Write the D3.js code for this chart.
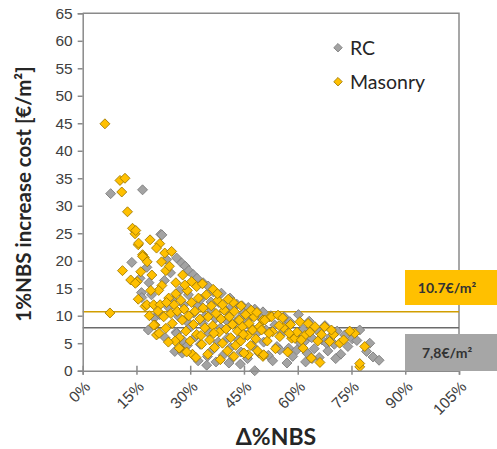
<html>
<head>
    <meta charset="utf-8">
    <script src="https://d3js.org/d3.v7.min.js" charset="utf-8"></script>
    <style>
        body { margin: 0; background: #fff; }
    </style>
</head>
<body>
    <script type="text/javascript">
        var width = 497;
        var height = 449;

        var margin = { top: 13.3, right: 38, bottom: 78.3, left: 82.7 };

        // tick values
        var xTicks = [0, 0.15, 0.30, 0.45, 0.60, 0.75, 0.90, 1.05];
        var yTicks = [0, 5, 10, 15, 20, 25, 30, 35, 40, 45, 50, 55, 60, 65];

        // reference lines (€/m2)
        var refValues = [10.7, 7.8];
        var refLabels = ["10.7€/m²", "7,8€/m²"];

        var seriesNames = ["RC", "Masonry"];

        // [ΔNBS %, cost €/m2]
        var rcPoints = [
            [7.8,32.2],[16.7,32.9],[13.7,19.7],[16.4,14.2],[16.5,13.3],[17.9,18.8],[18.3,7.4],[21.8,24.8],[22.1,24.7],
            [23.4,20.2],[26.2,20.5],[27.6,19.6],[28.6,19.0],[29.6,18.2],[30.8,17.5],[31.9,16.8],[33.6,16.0],[35.0,15.4],
            [36.5,14.3],[38.7,14.1],[41.1,13.2],[43.0,12.1],[44.5,11.8],[46.2,11.5],[48.0,11.2],[50.3,10.7],[20.0,9.6],
            [21.5,10.2],[24.0,11.5],[25.2,12.8],[26.1,7.0],[26.2,6.8],[25.7,3.5],[28.0,5.5],[29.0,9.0],[30.7,2.9],
            [31.5,6.2],[32.0,11.8],[32.8,4.8],[33.5,8.6],[34.6,1.0],[35.2,6.8],[35.8,12.5],[36.2,3.8],[37.0,9.5],
            [37.8,5.2],[38.5,7.8],[39.2,2.8],[39.8,11.0],[40.5,6.0],[41.2,4.2],[42.0,2.5],[42.6,8.8],[43.4,5.6],
            [44.2,3.4],[44.9,10.4],[45.5,6.5],[46.0,2.2],[46.8,8.0],[47.4,4.5],[48.0,0.0],[48.6,6.8],[49.2,3.2],
            [49.8,9.5],[50.5,5.2],[51.2,7.4],[51.8,2.8],[52.5,10.0],[53.6,8.3],[54.2,4.4],[55.0,3.8],[55.6,6.8],
            [56.2,9.8],[56.9,8.3],[57.5,4.1],[57.8,8.9],[58.6,2.6],[59.4,6.2],[60.2,10.2],[60.8,5.0],[61.5,7.5],
            [61.9,5.3],[62.6,3.2],[63.2,9.0],[63.9,6.0],[64.6,4.0],[65.3,7.4],[66.0,2.4],[66.8,5.6],[67.6,8.2],
            [68.4,3.6],[69.2,6.2],[70.2,4.8],[71.0,7.2],[72.0,3.0],[73.1,6.5],[74.0,4.4],[75.2,5.8],[76.5,5.5],
            [77.3,7.4],[79.2,3.5],[80.1,5.0],[81.0,2.5],[82.7,1.9],[27.0,14.5],[28.2,12.0],[29.5,13.8],[30.2,8.0],
            [31.0,10.5],[33.0,13.0],[34.0,9.8],[36.0,11.0],[38.0,12.4],[40.0,9.2],[41.6,11.6],[43.8,9.6],[45.8,9.0],
            [47.2,10.0],[19.2,13.8],[22.8,16.4],[24.5,17.8],[23.0,6.0],[26.8,9.8],[27.8,3.2],[29.2,4.6],[32.2,1.8],
            [34.8,2.6],[37.2,1.6],[40.8,1.4],[44.0,1.2],[53.0,1.8],[57.0,1.4],[59.8,3.8],[62.2,1.6],[64.0,2.2],
            [68.0,5.0],[70.6,2.2],[16.0,16.8],[18.5,16.0]
        ];

        var masonryPoints = [
            [6.2,44.9],[7.6,10.5],[10.4,34.6],[11.8,35.0],[10.9,32.5],[12.5,28.9],[13.9,25.9],[14.6,24.9],[14.8,25.5],
            [15.5,22.9],[16.7,21.1],[17.2,20.6],[11.1,18.2],[13.4,16.5],[15.2,16.2],[14.7,15.9],[15.5,13.0],[17.4,11.7],
            [17.9,12.0],[19.8,12.0],[21.6,12.0],[18.8,23.8],[21.5,23.1],[20.6,22.3],[22.9,21.4],[24.8,21.7],[16.7,20.8],
            [15.6,23.2],[19.3,17.4],[22.1,15.5],[21.2,14.6],[23.2,18.2],[27.9,17.4],[30.4,16.2],[31.8,15.3],[36.4,14.8],
            [42.0,12.4],[52.2,9.8],[50.3,9.2],[20.2,8.3],[20.6,6.5],[21.3,6.8],[23.2,7.7],[19.8,8.3],[27.1,4.1],
            [26.9,4.1],[30.6,3.0],[46.2,2.9],[50.3,2.6],
            [24.0,13.2],[24.6,10.4],[25.0,8.6],[25.5,12.0],[26.0,14.0],[26.4,10.8],[27.0,6.0],[27.4,12.8],[27.8,9.2],
            [28.3,11.2],[28.8,7.2],[29.2,14.6],[29.6,10.0],[30.0,5.4],[30.4,12.4],[30.9,8.4],[31.3,10.8],[31.8,6.6],
            [32.3,13.2],[32.7,9.4],[33.2,4.8],[33.6,11.4],[34.1,7.8],[34.5,13.8],[35.0,9.8],[35.4,5.6],[35.9,11.8],
            [36.3,8.2],[36.8,4.2],[37.2,10.4],[37.7,12.8],[38.1,7.0],[38.6,9.4],[39.0,5.0],[39.5,11.0],[40.0,7.6],
            [40.4,3.6],[40.9,9.8],[41.3,6.0],[41.8,8.4],[42.3,10.8],[42.7,4.6],[43.2,7.2],[43.7,9.2],[44.1,5.4],
            [44.6,8.0],[45.0,3.2],[45.5,10.2],[46.0,6.4],[46.4,8.6],[46.9,4.6],[47.4,7.4],[47.8,9.8],[48.3,5.8],
            [48.8,3.6],[49.3,8.0],[49.9,7.4],[50.8,9.2],[52.7,9.8],[54.5,10.1],[53.0,7.1],[55.0,6.2],[58.3,5.9],
            [59.2,5.9],[60.6,8.9],[62.9,8.6],[64.8,8.0],[67.5,8.0],[50.5,2.9],[61.5,4.1],[63.8,2.3],[66.2,1.5],
            [68.9,5.3],[71.7,5.0],[75.9,6.8],[77.3,0.7],[78.7,4.4],[77.3,1.3],[51.5,5.4],[53.8,4.0],[56.0,7.8],
            [57.2,3.4],[59.8,7.0],[62.0,6.4],[65.6,5.4],[70.0,6.6],[72.8,5.6],[74.5,7.2],[29.0,3.4],[31.6,2.4],
            [34.9,3.0],[38.4,2.0],[42.2,2.6],[26.0,16.0],[28.5,15.6],[33.4,15.8],[24.2,19.0],[22.0,19.8],[18.0,19.8],
            [16.2,18.0],[19.0,14.6],[23.4,12.4],[22.6,9.8],[21.0,10.8],[18.6,10.0],[25.8,5.4],[23.9,5.2],[37.6,14.0],
            [40.6,13.0],[44.2,11.8],[47.0,11.0],[39.0,12.0],[55.8,9.6],[58.0,8.4],[33.0,6.4],[36.6,6.8],[44.8,6.6],
            [48.6,10.6],[52.0,6.8],[54.8,8.2],[57.6,6.8],[61.0,5.6],[63.4,7.0],[66.6,6.6],[69.4,7.4]
        ];

        var colors = {
            rcFill: "#a3a3a3", rcStroke: "#7a7a7a",
            masFill: "#ffc000", masStroke: "#9c7600",
            orangeLine: "#d19e00", grayLine: "#6b6b6b",
            axis: "#8a8a8a", text: "#404040"
        };

        const svg = d3.select("body").append("svg")
            .attr("width", width)
            .attr("height", height)
            .style("font-family", "Lato, 'Open Sans', sans-serif");

        const xScale = d3.scaleLinear()
            .domain([0, 1.05])
            .range([margin.left, width - margin.right]);

        const yScale = d3.scaleLinear()
            .domain([0, 65])
            .range([height - margin.bottom, margin.top]);

        const x0 = xScale.range()[0], x1 = xScale.range()[1];
        const y0 = yScale.range()[0], y1 = yScale.range()[1];

        // plot border (top + right)
        svg.append("path")
            .attr("d", `M${x0},${y1} H${x1} V${y0}`)
            .attr("fill", "none")
            .attr("stroke", colors.axis)
            .attr("stroke-width", 1.5);

        // reference lines
        svg.append("line")
            .attr("x1", x0).attr("x2", x1)
            .attr("y1", yScale(refValues[0])).attr("y2", yScale(refValues[0]))
            .attr("stroke", colors.orangeLine).attr("stroke-width", 1.5);

        svg.append("line")
            .attr("x1", x0).attr("x2", x1)
            .attr("y1", yScale(refValues[1])).attr("y2", yScale(refValues[1]))
            .attr("stroke", colors.grayLine).attr("stroke-width", 1.5);

        // points
        const diamond = d3.symbol().type(d3.symbolSquare).size(50);

        function drawSeries(data, fill, stroke) {
            svg.append("g")
                .selectAll("path")
                .data(data)
                .join("path")
                    .attr("d", diamond)
                    .attr("transform", d => `translate(${xScale(d[0] / 100)},${yScale(d[1])}) rotate(45)`)
                    .attr("fill", fill)
                    .attr("stroke", stroke)
                    .attr("stroke-width", 0.8);
        }
        drawSeries(rcPoints, colors.rcFill, colors.rcStroke);
        drawSeries(masonryPoints, colors.masFill, colors.masStroke);

        // axes
        const yAxis = svg.append("g")
            .attr("transform", `translate(${x0},0)`)
            .call(d3.axisLeft(yScale).tickValues(yTicks).tickSize(5).tickPadding(5));

        const xAxis = svg.append("g")
            .attr("transform", `translate(0,${y0})`)
            .call(d3.axisBottom(xScale).tickValues(xTicks).tickSize(4).tickFormat(d3.format(".0%")));

        [yAxis, xAxis].forEach(a => {
            a.select(".domain").attr("stroke", colors.axis).attr("stroke-width", 1.5);
            a.selectAll(".tick line").attr("stroke", colors.axis).attr("stroke-width", 1.5);
            a.selectAll("text").attr("fill", colors.text).style("font-size", "15.5px");
        });

        // x ticks cross the axis
        xAxis.selectAll(".tick line").attr("y1", -5).attr("y2", 4);

        xAxis.selectAll(".tick text")
            .attr("text-anchor", "end")
            .attr("y", 0)
            .attr("dy", 0)
            .attr("transform", "translate(8,17) rotate(-45)");

        // axis titles
        svg.append("text")
            .attr("transform", `translate(31,${(y0 + y1) / 2 + 2}) rotate(-90)`)
            .attr("text-anchor", "middle")
            .attr("fill", "#262626")
            .style("font-size", "20.5px")
            .style("font-weight", "bold")
            .text("1%NBS increase cost [€/m²]");

        svg.append("text")
            .attr("x", 276)
            .attr("y", 445)
            .attr("text-anchor", "middle")
            .attr("fill", "#262626")
            .style("font-size", "23px")
            .style("font-weight", "bold")
            .text("Δ%NBS");

        // legend
        const legend = svg.append("g");
        [[colors.rcFill, colors.rcStroke], [colors.masFill, colors.masStroke]].forEach((c, i) => {
            const ly = 47.7 + i * 34;
            legend.append("path")
                .attr("d", d3.symbol().type(d3.symbolSquare).size(36))
                .attr("transform", `translate(338,${ly}) rotate(45)`)
                .attr("fill", c[0]).attr("stroke", c[1]).attr("stroke-width", 0.8);
            legend.append("text")
                .attr("x", 350).attr("y", ly + 7)
                .attr("fill", "#262626")
                .style("font-size", "19.5px")
                .text(seriesNames[i]);
        });

        // value boxes on the right
        const boxes = [
            { top: 270, bottom: 305, fill: "#ffc000" },
            { top: 334, bottom: 371, fill: "#a6a6a6" }
        ];
        boxes.forEach((b, i) => {
            svg.append("rect")
                .attr("x", 405).attr("y", b.top)
                .attr("width", width - 405).attr("height", b.bottom - b.top)
                .attr("fill", b.fill);
            svg.append("text")
                .attr("x", 447).attr("y", (b.top + b.bottom) / 2 + 5)
                .attr("text-anchor", "middle")
                .attr("fill", "#333")
                .style("font-size", "14px")
                .style("font-weight", "bold")
                .text(refLabels[i]);
        });
    </script>
</body>
</html>
